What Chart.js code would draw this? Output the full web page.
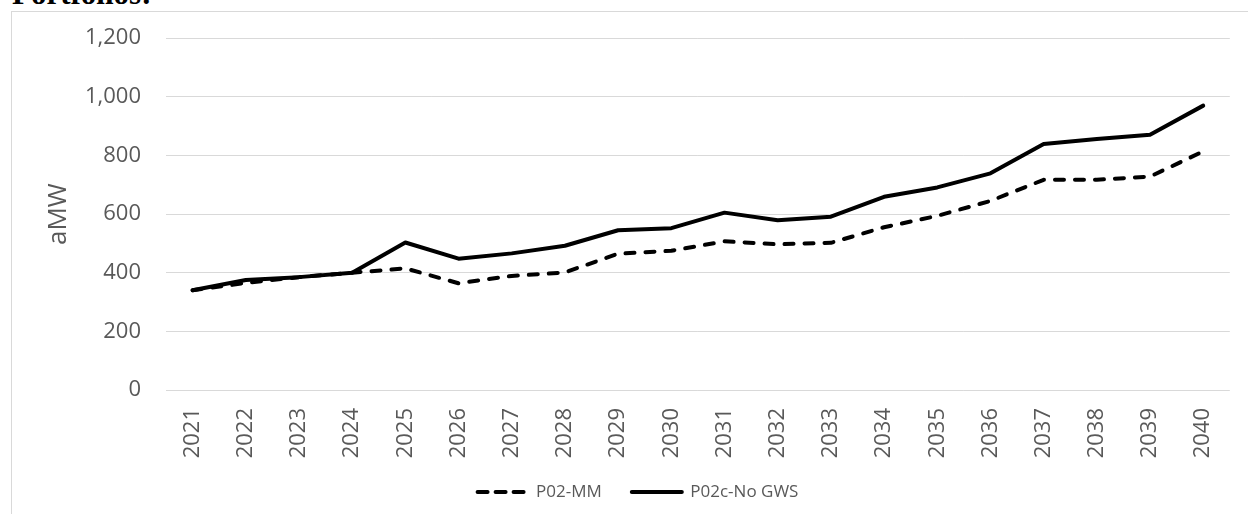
<!DOCTYPE html>
<html>
<head>
<meta charset="utf-8">
<script src="https://cdn.jsdelivr.net/npm/chart.js@4"></script>
<style>
  html, body { margin: 0; padding: 0; background: #ffffff; overflow: hidden; }
  #wrap { position: relative; width: 1248px; height: 514px; overflow: hidden; }
  #heading { position: absolute; left: 12px; top: -22px; font: bold 31px/31px "Liberation Serif", "Times New Roman", serif; color: #000; white-space: nowrap; }
  #frame { position: absolute; left: 11px; top: 11px; width: 1400px; height: 700px; border: 1px solid #d9d9d9; box-sizing: border-box; pointer-events: none; }
  canvas { position: absolute; left: 0; top: 0; }
</style>
</head>
<body>
<div id="wrap">
  <div id="heading">Portfolios:</div>
  <div id="frame"></div>
  <canvas id="c" width="1248" height="514"></canvas>
</div>
<script>
const years = ['2021','2022','2023','2024','2025','2026','2027','2028','2029','2030',
               '2031','2032','2033','2034','2035','2036','2037','2038','2039','2040'];
const p02mm = [340, 365, 385, 400, 415, 364, 389, 401, 465, 475,
               507, 497, 502, 555, 594, 645, 717, 717, 728, 814];
const p02cNoGws = [340, 375, 385, 400, 503, 448, 466, 492, 545, 552,
                   605, 579, 591, 659, 691, 739, 839, 856, 871, 970];
const seriesNames = ['P02-MM', 'P02c-No GWS'];
const yTitle = 'aMW';
const yMin = 0, yMax = 1200, yStep = 200;

const tickColor = '#595959';
const gridColor = '#d9d9d9';

new Chart(document.getElementById('c'), {
  type: 'line',
  data: {
    labels: years,
    datasets: [
      {
        label: seriesNames[0],
        data: p02mm,
        borderColor: '#000000',
        backgroundColor: '#000000',
        borderWidth: 4,
        borderDash: [9, 11],
        borderCapStyle: 'round',
        borderJoinStyle: 'round',
        pointRadius: 0,
        tension: 0,
        fill: false
      },
      {
        label: seriesNames[1],
        data: p02cNoGws,
        borderColor: '#000000',
        backgroundColor: '#000000',
        borderWidth: 4,
        borderCapStyle: 'round',
        borderJoinStyle: 'round',
        pointRadius: 0,
        tension: 0,
        fill: false
      }
    ]
  },
  options: {
    responsive: false,
    animation: false,
    devicePixelRatio: 1,
    layout: { padding: { left: 43, right: 15, top: 37.5, bottom: 3.5 } },
    plugins: {
      title: { display: false },
      tooltip: { enabled: false },
      legend: {
        display: true,
        position: 'bottom',
        align: 'center',
        labels: {
          usePointStyle: true,
          pointStyle: 'line',
          pointStyleWidth: 50,
          color: tickColor,
          font: { family: '"Open Sans", sans-serif', size: 17 },
          padding: 30,
          generateLabels: (chart) => chart.data.datasets.map((ds, i) => ({
            text: ds.label,
            fillStyle: '#000000',
            strokeStyle: '#000000',
            lineWidth: 4,
            lineDash: i === 0 ? [10, 8] : [],
            lineCap: 'round',
            lineJoin: 'round',
            pointStyle: 'line',
            fontColor: tickColor,
            hidden: false,
            datasetIndex: i
          }))
        }
      }
    },
    scales: {
      x: {
        type: 'category',
        offset: true,
        grid: { display: false, drawTicks: false },
        border: { display: false },
        ticks: {
          color: tickColor,
          font: { family: '"Open Sans", sans-serif', size: 22 },
          minRotation: 90,
          maxRotation: 90,
          autoSkip: false,
          padding: 18
        },
        afterFit: (s) => {
          s.height = 63.5;
          s._computeLabelArea = () => ({ top: s.top, left: 0, bottom: s.chart.height, right: s.chart.width });
        }
      },
      y: {
        min: yMin,
        max: yMax,
        grid: { color: gridColor, lineWidth: 1, drawTicks: false },
        border: { display: false },
        ticks: {
          stepSize: yStep,
          color: tickColor,
          font: { family: '"Open Sans", sans-serif', size: 22 },
          padding: 25,
          callback: (v) => Number(v).toLocaleString('en-US')
        },
        title: {
          display: true,
          text: yTitle,
          color: tickColor,
          font: { family: '"Open Sans", sans-serif', size: 26 },
          padding: { top: 0, bottom: 0 }
        },
        afterFit: (s) => { s.width = 123; }
      }
    }
  }
});
</script>
</body>
</html>
